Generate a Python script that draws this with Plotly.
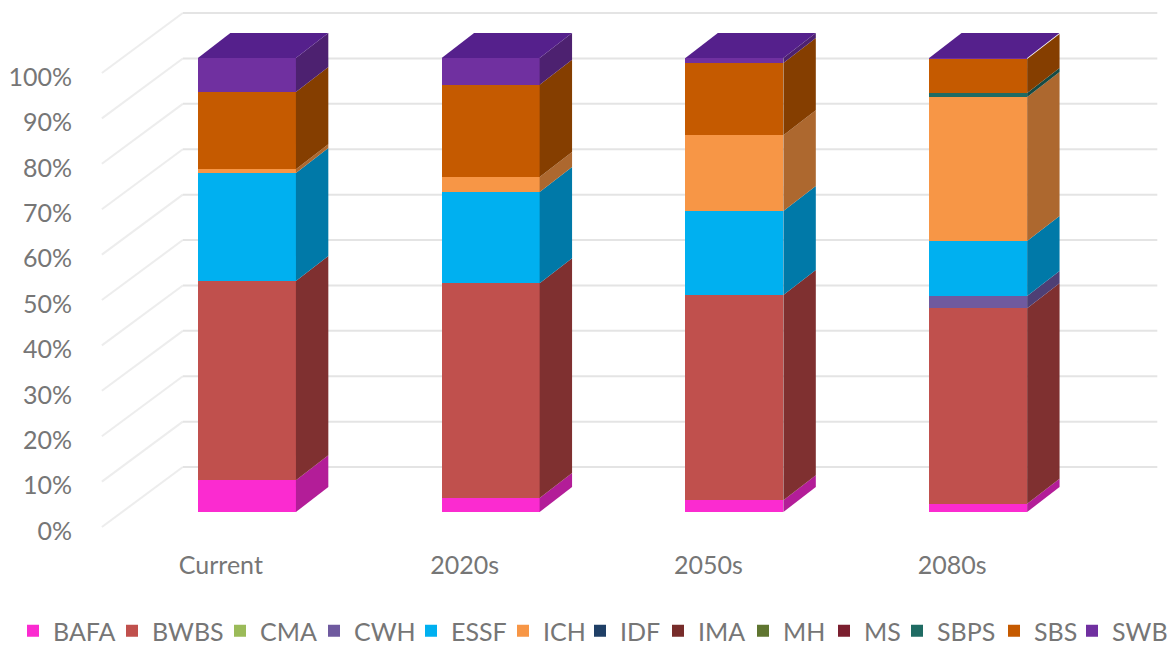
import plotly.graph_objects as go

periods = ["Current", "2020s", "2050s", "2080s"]
percent_ticks = [0, 10, 20, 30, 40, 50, 60, 70, 80, 90, 100]
zones = ["BAFA", "BWBS", "CMA", "CWH", "ESSF", "ICH", "IDF", "IMA", "MH", "MS", "SBPS", "SBS", "SWB"]

BAFA = [7.0, 3.1, 2.6, 1.8]
BWBS = [43.9, 47.3, 45.2, 43.1]
CMA = [0, 0, 0, 0]
CWH = [0, 0, 0, 2.7]
ESSF = [23.8, 20.1, 18.5, 12.1]
ICH = [0.8, 3.3, 16.7, 31.7]
IDF = [0, 0, 0, 0]
IMA = [0, 0, 0, 0]
MH = [0, 0, 0, 0]
MS = [0, 0, 0, 0]
SBPS = [0, 0, 0, 0.9]
SBS = [17.0, 20.3, 15.9, 7.5]
SWB = [7.5, 5.9, 1.1, 0.2]
series = [BAFA, BWBS, CMA, CWH, ESSF, ICH, IDF, IMA, MH, MS, SBPS, SBS, SWB]

front_colors = ["#fb2bd0", "#c0504d", "#9bbb59", "#6f5a9f", "#00b0f0", "#f79646",
                "#1f3f66", "#772c2a", "#5f7530", "#7b1f2f", "#1f6b63", "#c55a00", "#7030a0"]
side_colors = ["#b31d98", "#7f3030", "#6f8a3d", "#4e3f75", "#0079a8", "#ad682f",
               "#152c48", "#521e1d", "#425222", "#561520", "#154b45", "#853e00", "#4d2170"]
top_color = "#55208c"
legend_text_px = [53, 152, 260, 354, 451, 543, 620, 698, 783, 864, 937, 1034, 1112]

BAR_W = 0.402
DEPTH_X = 0.133
DEPTH_Y = 5.5
WALL_X0, WALL_X1, WALL_X2 = -0.595, -0.263, 3.735
WALL_FRONT, WALL_BACK = -3.3, 9.9
LABEL_SHIFT_X, LABEL_SHIFT_Y = -0.107, -4.2
PLOT_L, PLOT_W, PLOT_H = 78, 1091, 550
LEGEND_Y_PX = 631

fig = go.Figure()
legends = {}
font = dict(family="Lato, Carlito, sans-serif", size=25, color="#767676")
for k, (name, vals, col) in enumerate(zip(zones, series, front_colors)):
    key = "legend" if k == 0 else f"legend{k + 1}"
    fig.add_bar(x=list(range(len(periods))), y=vals, name=name, width=BAR_W, legend=key,
                showlegend=True, marker=dict(color=col, line=dict(width=0)), hoverinfo="name+y")
    legends[key] = dict(orientation="h", x=(legend_text_px[k] - 40 - PLOT_L) / PLOT_W, xanchor="left",
                        y=(PLOT_H - LEGEND_Y_PX) / PLOT_H, yanchor="middle", font=font,
                        bgcolor="rgba(0,0,0,0)")

for i in range(len(periods)):
    base = 0.0
    xr = i + BAR_W / 2
    xl = i - BAR_W / 2
    for vals, col in zip(series, side_colors):
        if vals[i] > 0:
            top = base + vals[i]
            fig.add_scatter(x=[xr, xr + DEPTH_X, xr + DEPTH_X, xr, xr],
                            y=[base, base + DEPTH_Y, top + DEPTH_Y, top, base],
                            mode="lines", line=dict(width=0), fill="toself", fillcolor=col,
                            showlegend=False, hoverinfo="skip")
            base = top
    fig.add_scatter(x=[xl, xr, xr + DEPTH_X, xl + DEPTH_X, xl],
                    y=[base, base, base + DEPTH_Y, base + DEPTH_Y, base],
                    mode="lines", line=dict(width=0), fill="toself", fillcolor=top_color,
                    showlegend=False, hoverinfo="skip")

shapes = []
for v in percent_ticks:
    shapes.append(dict(type="line", xref="x", yref="y", layer="below",
                       x0=WALL_X0, y0=v + WALL_FRONT, x1=WALL_X1, y1=v + WALL_BACK,
                       line=dict(color="#ededed", width=2)))
    shapes.append(dict(type="line", xref="x", yref="y", layer="below",
                       x0=WALL_X1, y0=v + WALL_BACK, x1=WALL_X2, y1=v + WALL_BACK,
                       line=dict(color="#e4e4e4", width=2)))

fig.update_layout(
    width=1169, height=647, autosize=False,
    margin=dict(l=PLOT_L, r=0, t=0, b=647 - PLOT_H, pad=0, autoexpand=False),
    paper_bgcolor="white", plot_bgcolor="white",
    barmode="stack", shapes=shapes, font=font,
    xaxis=dict(range=[-0.693, 3.783], showgrid=False, zeroline=False, showline=False,
               tickmode="array", tickvals=[i + LABEL_SHIFT_X for i in range(len(periods))],
               ticktext=periods, ticks="", tickfont=font, ticklabelstandoff=-2),
    yaxis=dict(range=[-8.37, 112.78], showgrid=False, zeroline=False, showline=False,
               tickmode="array", tickvals=[v + LABEL_SHIFT_Y for v in percent_ticks],
               ticktext=[f"{v}%" for v in percent_ticks], ticks="", tickfont=font,
               ticklabelstandoff=5),
    **legends,
)

fig.write_html("out.html", config={"displayModeBar": False},
               post_script="document.body.style.margin='0';")
